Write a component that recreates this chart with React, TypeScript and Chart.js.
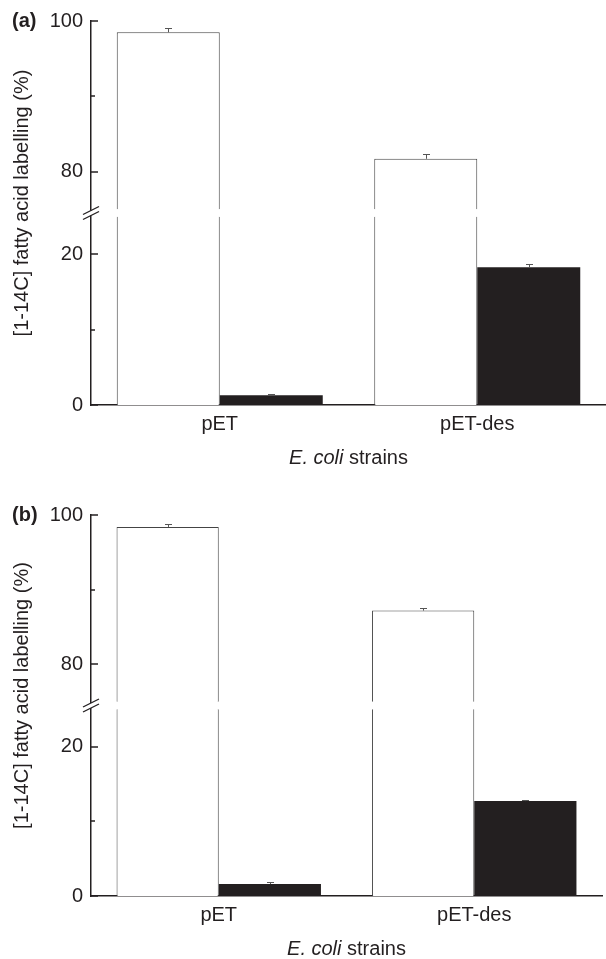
import React, { useEffect, useRef } from 'react';
import { Chart, registerables } from 'chart.js';

Chart.register(...registerables);

// ---------- data ----------
const CATEGORIES = ['pET', 'pET-des'];

const A_WHITE = [98.5, 81.7];
const A_WHITE_ERR = [0.6, 0.7];
const A_BLACK = [1.3, 18.3];
const A_BLACK_ERR = [0.15, 0.45];

const B_WHITE = [98.4, 87.2];
const B_WHITE_ERR = [0.4, 0.3];
const B_BLACK = [1.6, 12.7];
const B_BLACK_ERR = [0.25, 0.15];

const UPPER_TICKS = [80, 90, 100];
const LOWER_TICKS = [0, 10, 20];
const LABELED_TICKS = [0, 20, 80, 100];
const UPPER_RANGE = [75, 100];
const LOWER_RANGE = [0, 25];
const BREAK_PAD = 0.5;

const Y_TITLE = '[1-14C] fatty acid labelling (%)';
const X_TITLE_ITALIC = 'E. coli';
const X_TITLE_REST = ' strains';

// ---------- style ----------
const FONT = '"Liberation Sans", Arial, Helvetica, sans-serif';
const FS = 20;
const INK = '#231f20';
const OUTLINE = '#444444';

type PanelProps = {
  letter: string;
  white: number[];
  whiteErr: number[];
  black: number[];
  blackErr: number[];
  top: number;
  height: number;
  chartTop: number;
  chartBottom: number;
  padRight: number;
};

function makeDecor(p: PanelProps) {
  return {
    id: 'decor',
    afterDatasetsDraw(chart: any) {
      const ctx = chart.ctx;
      const yU = chart.scales.yU;
      const yL = chart.scales.yL;
      ctx.save();
      ctx.strokeStyle = '#555555';
      ctx.lineWidth = 1;
      const series = [
        { v: p.white, e: p.whiteErr, metas: [0, 1] },
        { v: p.black, e: p.blackErr, metas: [2, 3] },
      ];
      series.forEach((s) => {
        s.v.forEach((v, i) => {
          const upper = v > UPPER_RANGE[0];
          const scale = upper ? yU : yL;
          const meta = chart.getDatasetMeta(upper ? s.metas[0] : s.metas[1]);
          const x = Math.round(meta.data[i].x) + 0.5;
          const y0 = scale.getPixelForValue(v);
          const y1 = Math.round(scale.getPixelForValue(v + s.e[i])) + 0.5;
          ctx.beginPath();
          ctx.moveTo(x, y0);
          ctx.lineTo(x, y1);
          ctx.moveTo(x - 3.5, y1);
          ctx.lineTo(x + 3.5, y1);
          ctx.stroke();
        });
      });
      ctx.restore();
    },
    afterDraw(chart: any) {
      const ctx = chart.ctx;
      const area = chart.chartArea;
      const yU = chart.scales.yU;
      const yL = chart.scales.yL;
      const left = area.left;
      ctx.save();
      // inward ticks
      ctx.strokeStyle = INK;
      ctx.lineWidth = 1.5;
      const drawTicks = (scale: any, vals: number[]) => {
        vals.forEach((v) => {
          const y = Math.round(scale.getPixelForValue(v));
          const len = LABELED_TICKS.includes(v) ? 7 : 4;
          ctx.beginPath();
          ctx.moveTo(left, y);
          ctx.lineTo(left + len, y);
          ctx.stroke();
        });
      };
      drawTicks(yU, UPPER_TICKS);
      drawTicks(yL, LOWER_TICKS);

      // axis break
      const yb = yL.top;
      ctx.fillStyle = '#ffffff';
      ctx.fillRect(left - 2, yb - 2.5, 4, 5);
      ctx.lineWidth = 1.3;
      [-2.5, 2.5].forEach((dy) => {
        ctx.beginPath();
        ctx.moveTo(left - 8, yb + dy + 4);
        ctx.lineTo(left + 8, yb + dy - 4);
        ctx.stroke();
      });

      // y title
      ctx.fillStyle = INK;
      ctx.font = `${FS}px ${FONT}`;
      ctx.textAlign = 'center';
      ctx.textBaseline = 'middle';
      ctx.save();
      ctx.translate(22.5, (area.top + area.bottom) / 2 - 10);
      ctx.rotate(-Math.PI / 2);
      ctx.fillText(Y_TITLE, 0, 0);
      ctx.restore();

      // panel letter
      ctx.font = `bold ${FS}px ${FONT}`;
      ctx.textAlign = 'left';
      ctx.textBaseline = 'middle';
      ctx.fillText(p.letter, 12, area.top);

      // x title
      ctx.textBaseline = 'alphabetic';
      const italic = `italic ${FS}px ${FONT}`;
      const normal = `${FS}px ${FONT}`;
      ctx.font = italic;
      const w1 = ctx.measureText(X_TITLE_ITALIC).width;
      ctx.font = normal;
      const w2 = ctx.measureText(X_TITLE_REST).width;
      const cx = (area.left + area.right) / 2;
      const x0 = cx - (w1 + w2) / 2;
      const by = area.bottom + 59;
      ctx.font = italic;
      ctx.fillText(X_TITLE_ITALIC, x0, by);
      ctx.font = normal;
      ctx.fillText(X_TITLE_REST, x0 + w1, by);
      ctx.restore();
    },
  };
}

function Panel(p: PanelProps) {
  const ref = useRef<HTMLCanvasElement | null>(null);
  useEffect(() => {
    if (!ref.current) return;
    const whiteUpper = p.white.map((v) => (v > UPPER_RANGE[0] ? [UPPER_RANGE[0], v] : null));
    const whiteLower = p.white.map((v) => [LOWER_RANGE[0], Math.min(v, LOWER_RANGE[1])]);
    const blackUpper = p.black.map((v) => (v > UPPER_RANGE[0] ? [UPPER_RANGE[0], v] : null));
    const blackLower = p.black.map((v) => [LOWER_RANGE[0], Math.min(v, LOWER_RANGE[1])]);
    const tickFont = { family: FONT, size: FS };
    const labelCb = (value: any) => (LABELED_TICKS.includes(Number(value)) ? String(value) : '');
    const chart = new Chart(ref.current, {
      type: 'bar',
      data: {
        labels: CATEGORIES,
        datasets: [
          {
            label: 'white-upper',
            data: whiteUpper as any,
            yAxisID: 'yU',
            stack: 'white',
            backgroundColor: '#ffffff',
            borderColor: OUTLINE,
            borderWidth: { top: 1, left: 1, right: 1, bottom: 0 } as any,
            borderSkipped: false,
          },
          {
            label: 'white-lower',
            data: whiteLower as any,
            yAxisID: 'yL',
            stack: 'white',
            backgroundColor: '#ffffff',
            borderColor: OUTLINE,
            borderWidth: ((c: any) => ({
              top: p.white[c.dataIndex] > LOWER_RANGE[1] ? 0 : 1,
              left: 1,
              right: 1,
              bottom: 0,
            })) as any,
            borderSkipped: false,
          },
          {
            label: 'black-upper',
            data: blackUpper as any,
            yAxisID: 'yU',
            stack: 'black',
            backgroundColor: INK,
            borderWidth: 0,
          },
          {
            label: 'black-lower',
            data: blackLower as any,
            yAxisID: 'yL',
            stack: 'black',
            backgroundColor: INK,
            borderWidth: 0,
          },
        ],
      },
      options: {
        animation: false,
        responsive: false,
        devicePixelRatio: 1,
        layout: { padding: { top: p.chartTop, right: p.padRight, left: 0, bottom: 0 } },
        plugins: { legend: { display: false }, tooltip: { enabled: false } },
        datasets: { bar: { categoryPercentage: 0.8, barPercentage: 1.0 } },
        scales: {
          x: {
            type: 'category',
            grid: { display: false, drawTicks: false },
            border: { display: true, color: INK, width: 1.5 },
            ticks: { font: tickFont, color: INK, padding: 7, maxRotation: 0 },
            afterFit: (s: any) => {
              s.height = p.height - p.chartBottom;
            },
          },
          yL: {
            type: 'linear',
            position: 'left',
            stack: 'ybreak',
            stackWeight: 1,
            stacked: false,
            min: LOWER_RANGE[0],
            max: LOWER_RANGE[1] + BREAK_PAD,
            grid: { display: false, drawTicks: false },
            border: { display: true, color: INK, width: 1.5 },
            ticks: { font: tickFont, color: INK, padding: 8, callback: labelCb },
            afterBuildTicks: (s: any) => {
              s.ticks = LOWER_TICKS.map((v) => ({ value: v }));
            },
            afterFit: (s: any) => {
              s.width = 91;
            },
          },
          yU: {
            type: 'linear',
            position: 'left',
            stack: 'ybreak',
            stackWeight: 1,
            stacked: false,
            min: UPPER_RANGE[0] - BREAK_PAD,
            max: UPPER_RANGE[1],
            grid: { display: false, drawTicks: false },
            border: { display: true, color: INK, width: 1.5 },
            ticks: { font: tickFont, color: INK, padding: 8, callback: labelCb },
            afterBuildTicks: (s: any) => {
              s.ticks = UPPER_TICKS.map((v) => ({ value: v }));
            },
            afterFit: (s: any) => {
              s.width = 91;
            },
          },
        } as any,
      },
      plugins: [makeDecor(p)],
    });
    return () => chart.destroy();
  }, []);
  return (
    <canvas
      ref={ref}
      width={606}
      height={p.height}
      style={{ position: 'absolute', left: 0, top: p.top, width: 606, height: p.height }}
    />
  );
}

export default function App() {
  return (
    <div style={{ position: 'absolute', left: 0, top: 0, width: 606, height: 959, background: '#ffffff' }}>
      <Panel
        letter="(a)"
        white={A_WHITE}
        whiteErr={A_WHITE_ERR}
        black={A_BLACK}
        blackErr={A_BLACK_ERR}
        top={0}
        height={480}
        chartTop={21}
        chartBottom={405}
        padRight={0}
      />
      <Panel
        letter="(b)"
        white={B_WHITE}
        whiteErr={B_WHITE_ERR}
        black={B_BLACK}
        blackErr={B_BLACK_ERR}
        top={480}
        height={479}
        chartTop={35}
        chartBottom={416}
        padRight={4}
      />
    </div>
  );
}
